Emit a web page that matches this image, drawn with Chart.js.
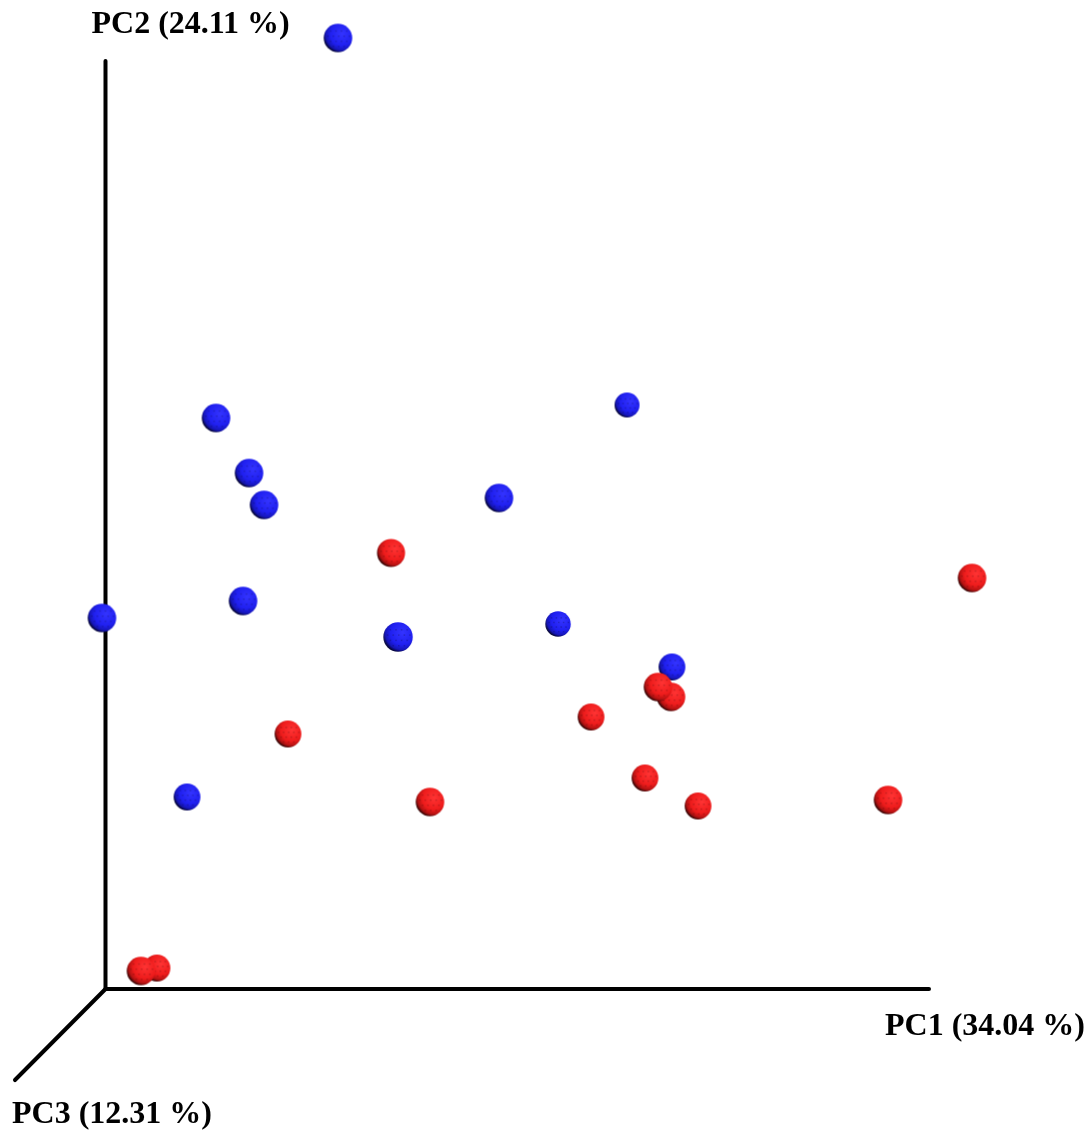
<!DOCTYPE html>
<html>
<head>
<meta charset="utf-8">
<title>PCoA</title>
<script src="https://cdn.jsdelivr.net/npm/chart.js@4/dist/chart.umd.min.js"></script>
<style>
  html, body { margin: 0; padding: 0; background: #fff; }
  #wrap { width: 1092px; height: 1133px; position: relative; }
</style>
</head>
<body>
<div id="wrap"><canvas id="pcoa" width="1092" height="1133"></canvas></div>
<script>
// Projected sample coordinates (axis units: origin at the corner, axis length = 100)
const groupA_x = [28.23, 13.42, 17.43, 19.25, 63.33, 47.78, 16.70, -0.43, 35.52, 54.95, 68.79, 9.90];
const groupA_y = [102.48, 61.53, 55.60, 52.16, 62.93, 52.91, 41.81, 39.98, 37.93, 39.33, 34.70, 20.69];
const groupA_depth = [0.8, 0.8, 0.8, 0.8, 0.0, 0.8, 0.8, 0.8, 1.0, 0.1, 0.4, 0.4];

const groupB_x = [34.67, 105.22, 68.67, 67.09, 58.96, 22.16, 39.40, 65.51, 71.95, 95.02, 6.25, 4.31];
const groupB_y = [46.98, 44.29, 31.47, 32.54, 29.31, 27.48, 20.15, 22.74, 19.72, 20.37, 2.26, 1.94];
const groupB_depth = [0.7, 0.8, 0.8, 0.8, 0.4, 0.4, 0.8, 0.4, 0.4, 0.8, 0.4, 0.8];

// Axis end points (PC1, PC2, PC3 drawn in perspective)
const axisNames = ['PC1 (34.04 %)', 'PC2 (24.11 %)', 'PC3 (12.31 %)'];
const axisEnds = [[100, 0], [0, 100], [-10.99, -9.81]];

const toPoints = (xs, ys) => xs.map((x, i) => ({ x: x, y: ys[i] }));

// Shaded ball sprite for a given colour set and radius
const spriteCache = {};
function ball(palette, r) {
  const key = palette.join() + r.toFixed(1);
  if (spriteCache[key]) return spriteCache[key];
  const size = Math.ceil(2 * r + 2);
  const c = document.createElement('canvas');
  c.width = size; c.height = size;
  const g = c.getContext('2d');
  const cx = size / 2, cy = size / 2;
  const grad = g.createRadialGradient(cx + 0.3 * r, cy - 0.3 * r, 0, cx + 0.25 * r, cy - 0.25 * r, 1.3 * r);
  grad.addColorStop(0, palette[0]);
  grad.addColorStop(0.62, palette[1]);
  grad.addColorStop(0.86, palette[2]);
  grad.addColorStop(1, palette[3]);
  g.fillStyle = grad;
  g.beginPath();
  g.arc(cx, cy, r, 0, Math.PI * 2);
  g.fill();
  // faint facet texture
  g.globalAlpha = 0.2;
  g.fillStyle = '#000';
  for (let a = 0; a < 6; a++) {
    for (let b = -2; b <= 2; b++) {
      const px = cx + b * r * 0.38 + (a % 2) * r * 0.19;
      const py = cy - r * 0.9 + a * r * 0.36;
      if ((px - cx) ** 2 + (py - cy) ** 2 < (r * 0.9) ** 2) {
        g.fillRect(px, py, 1.5, 1.5);
      }
    }
  }
  spriteCache[key] = c;
  return c;
}

const bluePalette = ['#3434ff', '#2020f0', '#1616b8', '#06063a'];
const redPalette = ['#ff3434', '#ee1c1c', '#b41212', '#3a0606'];
const radiusFor = d => 12.5 + 2.2 * d;

const axisLine = (end) => ({
  type: 'scatter',
  data: [{ x: 0, y: 0 }, { x: end[0], y: end[1] }],
  showLine: true,
  borderColor: '#000',
  borderWidth: 4,
  borderCapStyle: 'round',
  pointRadius: 0,
  pointHoverRadius: 0,
  order: 3,
  clip: false
});

const labelPlugin = {
  id: 'axisLabels',
  afterDatasetsDraw(chart) {
    const { ctx, scales } = chart;
    const px = v => scales.x.getPixelForValue(v);
    const py = v => scales.y.getPixelForValue(v);
    ctx.save();
    ctx.fillStyle = '#000';
    ctx.font = 'bold 32px "Liberation Serif", "Times New Roman", serif';
    ctx.textBaseline = 'alphabetic';
    ctx.textAlign = 'left';
    // PC1: below and to the right of the horizontal axis end
    ctx.fillText(axisNames[0], px(axisEnds[0][0]) - 44, py(axisEnds[0][1]) + 46);
    // PC2: above the vertical axis
    ctx.fillText(axisNames[1], px(axisEnds[1][0]) - 14, py(axisEnds[1][1]) - 28);
    // PC3: below the receding axis
    ctx.fillText(axisNames[2], px(axisEnds[2][0]) - 3, py(axisEnds[2][1]) + 43);
    ctx.restore();
  }
};

new Chart(document.getElementById('pcoa'), {
  type: 'scatter',
  data: {
    datasets: [
      axisLine(axisEnds[0]),
      axisLine(axisEnds[1]),
      axisLine(axisEnds[2]),
      {
        label: 'Group A',
        data: toPoints(groupA_x, groupA_y),
        pointStyle: ctx => ball(bluePalette, radiusFor(groupA_depth[ctx.dataIndex] || 0)),
        pointRadius: 14,
        order: 2,
        clip: false
      },
      {
        label: 'Group B',
        data: toPoints(groupB_x, groupB_y),
        pointStyle: ctx => ball(redPalette, radiusFor(groupB_depth[ctx.dataIndex] || 0)),
        pointRadius: 14,
        order: 1,
        clip: false
      }
    ]
  },
  options: {
    responsive: false,
    animation: false,
    layout: { padding: 0, autoPadding: false },
    plugins: { legend: { display: false }, tooltip: { enabled: false } },
    events: [],
    scales: {
      x: { type: 'linear', display: false, min: -12.81, max: 119.79 },
      y: { type: 'linear', display: false, min: -15.52, max: 106.57 }
    }
  },
  plugins: [labelPlugin]
});
</script>
</body>
</html>
